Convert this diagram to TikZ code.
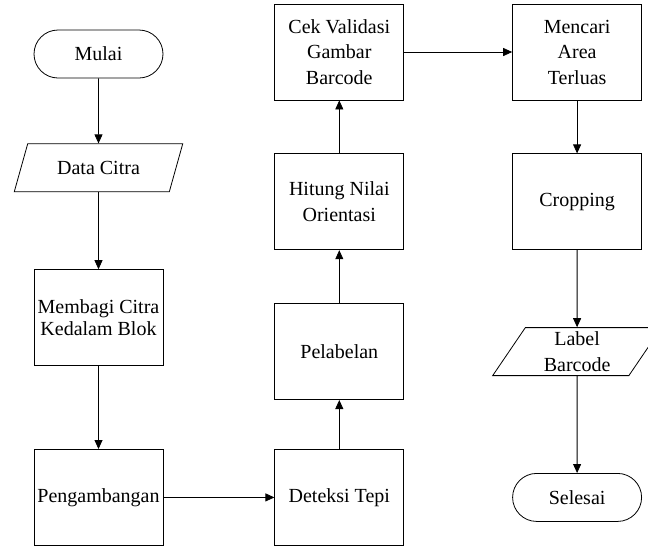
\documentclass[tikz,border=0pt]{standalone}
\usepackage{fontspec}
\setmainfont{Liberation Serif}
\usetikzlibrary{arrows.meta, positioning, shapes.geometric}

\begin{document}
\begin{tikzpicture}[
  x=1pt, y=1pt,
  proc/.style={rectangle, draw, align=center, minimum width=129pt, minimum height=96pt, inner sep=1pt},
  term/.style={rectangle, draw, rounded corners=24pt, align=center, minimum width=129pt, minimum height=48pt},
  io/.style={trapezium, draw, align=center, trapezium left angle=62.5, trapezium right angle=117.5, trapezium stretches=true, minimum width=169pt, minimum height=48pt, inner sep=1pt},
  arr/.style={-{Triangle[length=9pt, width=8pt]}, line width=0.8pt},
  every node/.style={line width=0.8pt, font=\fontsize{20}{25.5}\selectfont}
]
\useasboundingbox (0,0) rectangle (648,-547);
\node[term] (mulai) at (98.5,-54) {Mulai};
\node[io, below=65pt of mulai] (data) {Data Citra};
\node[proc, below=77pt of data] (blok) {Membagi Citra\\[-3pt]Kedalam Blok};
\node[proc, below=83pt of blok] (ambang) {Pengambangan};
\node[proc, right=111pt of ambang] (tepi) {Deteksi Tepi};
\node[proc, above=49pt of tepi] (label) {Pelabelan};
\node[proc, above=53pt of label] (orient) {Hitung Nilai\\Orientasi};
\node[proc, above=53pt of orient] (valid) {Cek Validasi\\Gambar\\Barcode};
\node[proc, right=108pt of valid] (area) {Mencari\\Area\\Terluas};
\node[proc, below=53pt of area] (crop) {Cropping};
\node[io, below=77pt of crop] (hasil) {Label\\Barcode};
\node[term, below=97pt of hasil] (selesai) {Selesai};
\draw[arr] (mulai)--(data); \draw[arr] (data)--(blok); \draw[arr] (blok)--(ambang);
\draw[arr] (ambang)--(tepi); \draw[arr] (tepi)--(label); \draw[arr] (label)--(orient);
\draw[arr] (orient)--(valid); \draw[arr] (valid)--(area); \draw[arr] (area)--(crop);
\draw[arr] (crop)--(hasil); \draw[arr] (hasil)--(selesai);
\end{tikzpicture}
\end{document}
